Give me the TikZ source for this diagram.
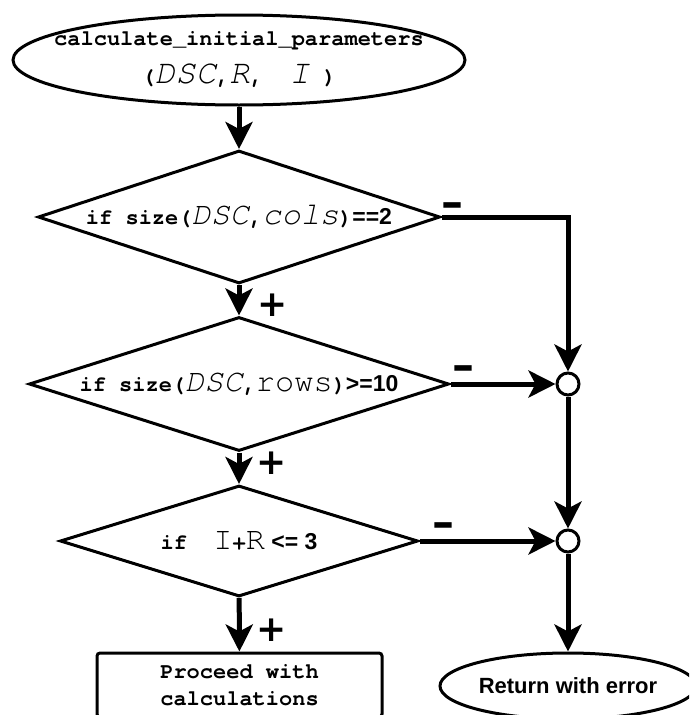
\documentclass[tikz,border=0pt]{standalone}
\usepackage{fontspec}
\setmainfont{Liberation Sans}
\setsansfont{Liberation Sans}
\setmonofont{TeX Gyre Cursor}
\newfontfamily\signfont{DejaVu Sans}
\usepackage{tikz}
\usetikzlibrary{shapes.geometric}
\usetikzlibrary{arrows.meta}
\usetikzlibrary{positioning}

\newcommand{\codetxt}[1]{{\fontsize{22}{27}\selectfont\ttfamily\bfseries #1}}
\newcommand{\vartxt}[1]{{\fontsize{32}{38}\selectfont\ttfamily\itshape #1}}
\newcommand{\bigvartxt}[1]{{\fontsize{34}{38}\selectfont\ttfamily\itshape #1}}
\newcommand{\uptxt}[1]{{\fontsize{32}{38}\selectfont\ttfamily #1}}
\newcommand{\optxt}[1]{{\fontsize{23}{27}\selectfont\sffamily\bfseries #1}}

\tikzset{
  decision/.style={diamond, draw, line width=3pt, inner sep=0pt},
  terminal/.style={ellipse, draw, line width=3pt, inner sep=0pt},
  process/.style={rectangle, draw, line width=3pt, rounded corners=3pt, inner sep=0pt},
  joint/.style={circle, draw, line width=3pt, fill=white, minimum size=22pt, inner sep=0pt},
  flow/.style={line width=5pt, -{Stealth[length=27pt, width=27pt, inset=7pt]}},
  plussign/.style={font=\fontsize{36}{36}\selectfont\signfont\bfseries, inner sep=0pt},
  minussign/.style={font=\fontsize{44}{44}\selectfont\signfont\bfseries, inner sep=0pt},
}

\begin{document}
\begin{tikzpicture}[x=1pt, y=-1pt]
      \useasboundingbox (0,0) rectangle (689,715);
      \clip (0,0) rectangle (689,715);

      \node[terminal, minimum width=452pt, minimum height=90pt,
            label={[align=center, font=\fontsize{22}{38}\selectfont]center:{\codetxt{calculate\_initial\_parameters}\\
              \codetxt{(}\bigvartxt{DSC}\codetxt{,}\bigvartxt{R}\codetxt{,~~}\bigvartxt{I}\codetxt{~)}}}] (start) at (239,60) {};

      \node[decision, minimum width=402pt, minimum height=133pt,
            label=center:{\codetxt{if size(}\vartxt{DSC}\codetxt{,}\vartxt{cols}\codetxt{)}\optxt{==2}}] (ifcols) at (239,217) {};
      \node[decision, minimum width=420pt, minimum height=134pt,
            label=center:{\codetxt{if size(}\vartxt{DSC}\codetxt{,}\uptxt{rows}\codetxt{)}\optxt{>=10}}] (ifrows) at (239,384) {};
      \node[decision, minimum width=358pt, minimum height=111pt,
            label=center:{\codetxt{if~~}\uptxt{I}\codetxt{+}\uptxt{R}\optxt{~<=~3}}] (ifsum) at (239,541) {};

      \node[process, minimum width=285pt, minimum height=64pt, align=center,
            font=\fontsize{22}{27}\selectfont\ttfamily\bfseries] (proceed) at (239.5,685) {Proceed with\\calculations};

      \node[joint] (join1) at (568,384) {};
      \node[joint] (join2) at (568,541) {};

      \node[terminal, minimum width=256pt, minimum height=66pt,
            font=\fontsize{22}{27}\selectfont\bfseries] (stop) at (568,686) {Return with error};

      % yes branches
      \draw[flow] (start) -- (ifcols);
      \draw[flow] (ifcols) -- (ifrows);
      \draw[flow] (ifrows) -- (ifsum);
      \draw[flow] (ifsum) -- (proceed);

      % no branches
      \draw[flow] (ifcols.east) -| (join1);
      \draw[flow] (ifrows.east) -- (join1);
      \draw[flow] (join1) -- (join2);
      \draw[flow] (ifsum.east) -- (join2);
      \draw[flow] (join2) -- (stop);

      \node[minussign] (minus1) at (452,210) {–};
      \node[plussign] (plus1) at (273,305) {+};
      \node[minussign] (minus2) at (463,373) {–};
      \node[plussign] (plus2) at (272,463) {+};
      \node[minussign] (minus3) at (443,530) {–};
      \node[plussign] (plus3) at (272,630) {+};

    \end{tikzpicture}
\end{document}
